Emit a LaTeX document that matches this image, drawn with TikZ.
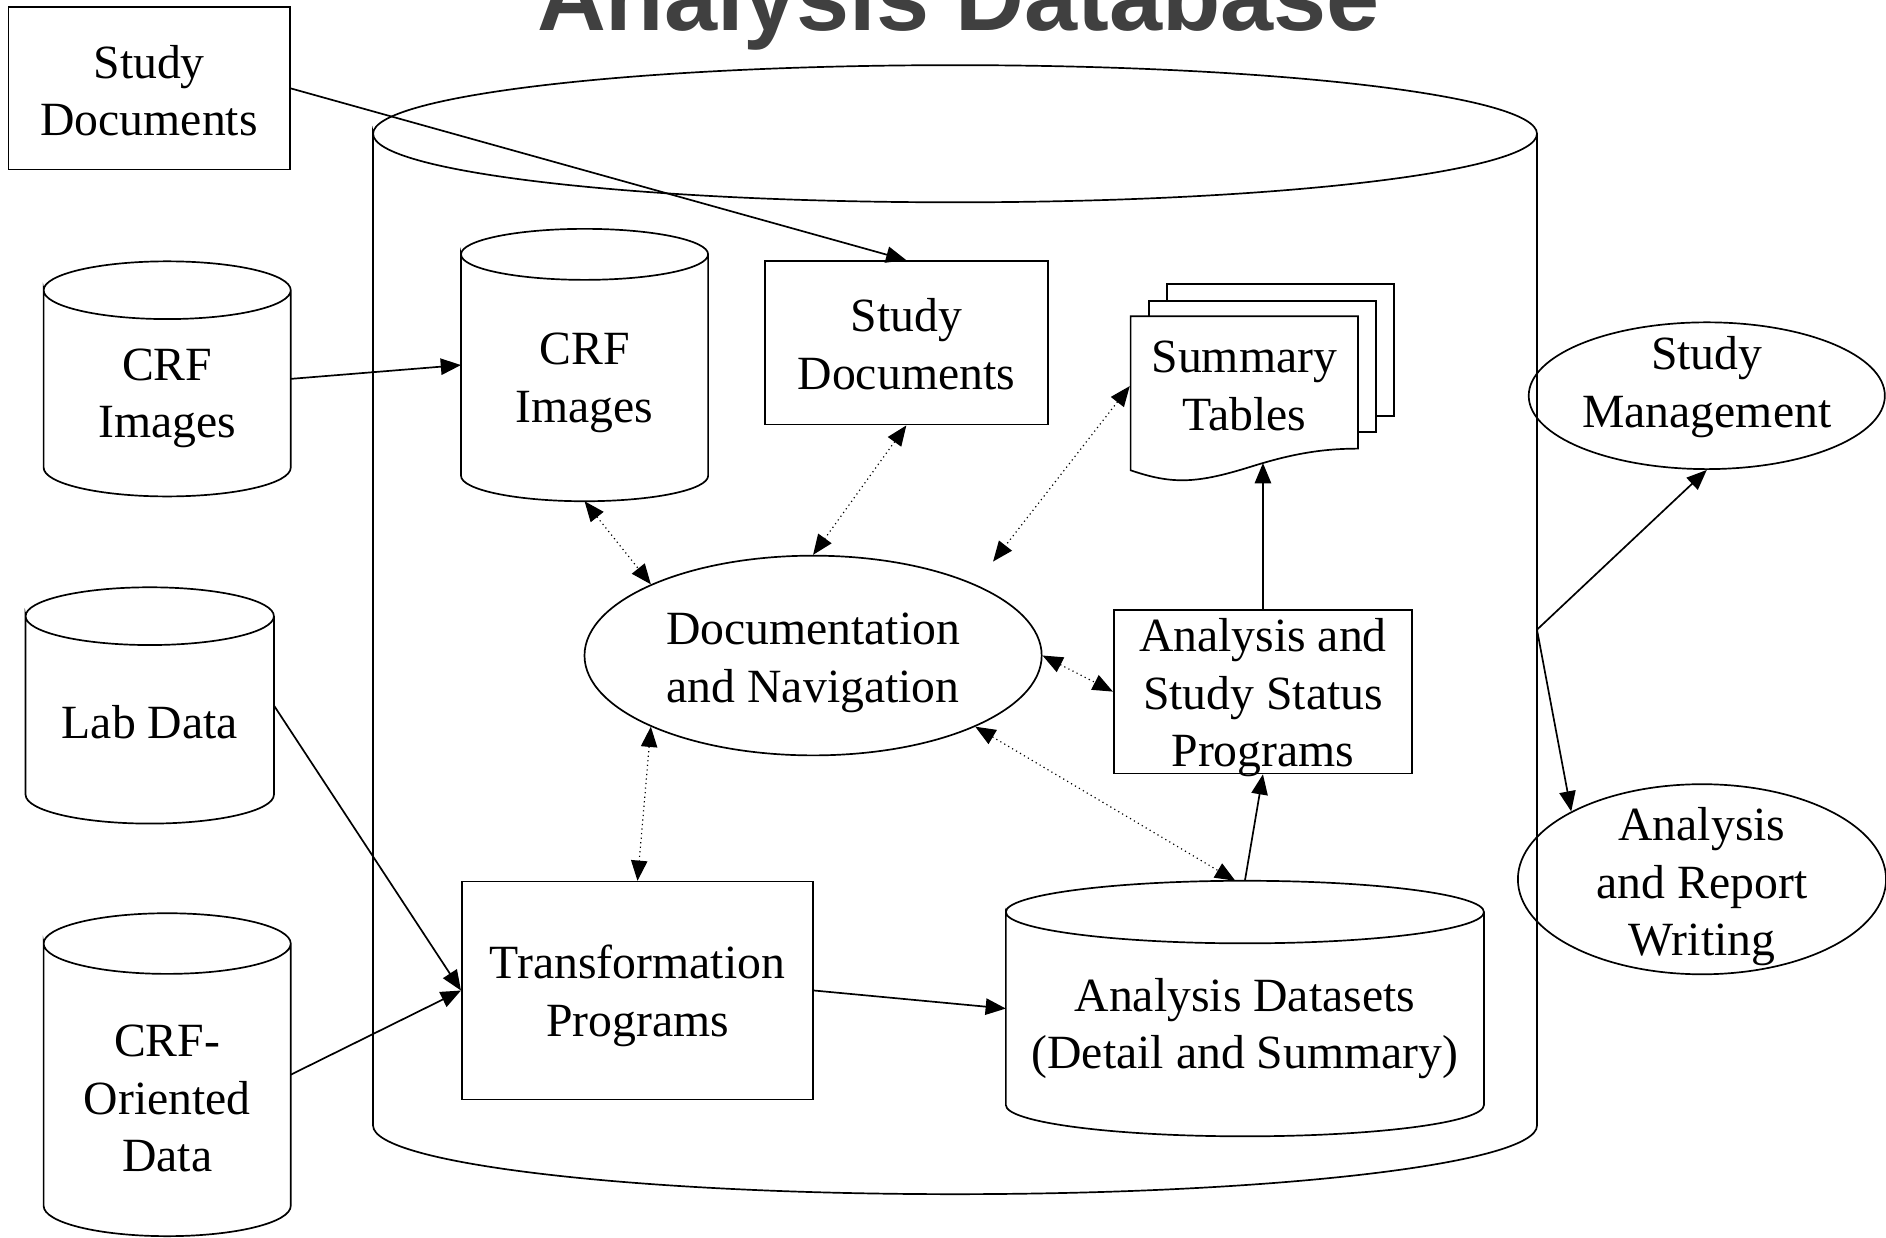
\documentclass[tikz,border=0pt]{standalone}
\usepackage{fontspec}
\setmainfont{Liberation Serif}
\newfontfamily\titlefont{Liberation Sans}
\usetikzlibrary{arrows.meta, shapes.geometric, calc, positioning}
\definecolor{titlegray}{HTML}{404040}
% outline of a cylinder round a rectangle node: name, cap radius
\newcommand\dbcyl[2]{%
  \draw let \p1=(#1.north west), \p2=(#1.south east), \n1={(\x2-\x1)/2} in
    ({\x1},{\y1-#2}) arc[start angle=180, end angle=-180, x radius=\n1, y radius=#2]
    -- ({\x1},{\y2+#2}) arc[start angle=180, end angle=360, x radius=\n1, y radius=#2]
    -- ({\x2},{\y1-#2});}
\tikzset{
  box/.style={draw, rectangle, inner sep=0pt, align=center},
  db/.style={rectangle, inner sep=0pt, align=center},
  oval/.style={draw, ellipse, inner sep=0pt, align=center},
  textdrop/.style={execute at begin node={\rule{0pt}{#1}}},
  textlift/.style={execute at end node={\rule[-#1]{0pt}{#1}}},
  flow/.style={->},
  link/.style={<->, dotted, line width=0.7pt},
}
\begin{document}
\begin{tikzpicture}[x=0.025cm, y=-0.025cm, >={Triangle[length=0.42cm,width=0.34cm]},
    line width=1pt, font=\fontsize{28.2}{34}\selectfont]
    \useasboundingbox (0,0) rectangle (1568,1029);
    \node[font=\titlefont\bfseries\fontsize{56.4}{60}\selectfont, text=titlegray, anchor=base] (title) at (797,25) {Analysis Database};
    \node[db, minimum width=24.15cm, minimum height=23.425cm] (odb) at (794,523.5) {};
    \dbcyl{odb}{1.425cm}
    % sources outside the database
    \node[box, textdrop=56pt, minimum width=5.85cm, minimum height=3.375cm] (sdoc) at (124,73.5) {Study\\Documents};
    \node[db, textdrop=75.8pt, minimum width=5.1cm, minimum height=4.85cm] (lcrf) at (139,315) {CRF\\Images};
    \dbcyl{lcrf}{0.6cm}
    \node[db, textdrop=39.2pt, minimum width=5.125cm, minimum height=4.875cm] (lab) at (124.5,586.5) {Lab Data};
    \dbcyl{lab}{0.6cm}
    \node[db, textdrop=114.8pt, minimum width=5.1cm, minimum height=6.675cm] (coda) at (139,893.5) {CRF-\\Oriented\\Data};
    \dbcyl{coda}{0.63cm}
    % inside the database
    \node[db, textdrop=73.6pt, minimum width=5.1cm, minimum height=5.625cm] (icrf) at (486,303.5) {CRF\\Images};
    \dbcyl{icrf}{0.53cm}
    \node[box, textdrop=55.4pt, minimum width=5.875cm, minimum height=3.4cm] (isdoc) at (753.5,285) {Study\\Documents};
    \draw[fill=white] (970,236) rectangle (1159,346);
    \draw[fill=white] (955,250) rectangle (1144,359);
    \draw[fill=white] (940,263) -- (1129,263) -- (1129,373)
        .. controls (1100,373) and (1075,377) .. (1040,388)
        .. controls (995,402) and (975,403) .. (940,391) -- cycle;
    \node[inner sep=0pt, minimum width=4.725cm, minimum height=3cm, align=center] (sumt) at (1034.5,321) {Summary\\Tables};
    \coordinate (sumtip) at (1050,385);
    \node[oval, textdrop=61.3pt, minimum width=9.5cm, minimum height=4.15cm] (dnav) at (676,545) {Documentation\\and Navigation};
    \node[box, textdrop=95.1pt, inner ysep=-0.2cm, minimum width=6.2cm, minimum height=3.4cm] (asp) at (1050,575) {Analysis and\\Study Status\\Programs};
    \node[box, textdrop=60.4pt, minimum width=7.3cm, minimum height=4.525cm] (trans) at (530,823.5) {Transformation\\Programs};
    \node[db, textdrop=77.5pt, minimum width=9.9cm, minimum height=5.275cm] (ads) at (1035,838.5) {Analysis Datasets\\(Detail and Summary)};
    \dbcyl{ads}{0.65cm}
    % users
    \node[oval, textlift=16pt, inner ysep=-0.3cm, minimum width=7.4cm, minimum height=3.05cm] (stmg) at (1419,329) {Study\\Management};
    \node[oval, textdrop=96.5pt, inner ysep=-0.5cm, minimum width=7.65cm, minimum height=3.95cm] (arw) at (1415,731) {Analysis\\and Report\\Writing};

    \draw[flow] (sdoc.east) -- (isdoc.north);
    \draw[flow] (lcrf.east) -- (icrf.west);
    \draw[flow] (lab.east) -- (trans.west);
    \draw[flow] (coda.east) -- (trans.west);
    \draw[flow] (trans.east) -- (ads.west);
    \draw[flow] (ads.north) -- (asp.south);
    \draw[flow] (asp.north) -- (sumtip);
    \draw[flow] (odb.east) -- (stmg.south);
    \draw[flow] (odb.east) -- (arw.north west);
    \draw[link] (icrf.south) -- (dnav.north west);
    \draw[link] (isdoc.south) -- (dnav.north);
    \draw[link, shorten >=0.6cm] (sumt.west) -- (dnav.north east);
    \draw[link] (dnav.east) -- (asp.west);
    \draw[link] (dnav.south east) -- ([xshift=-0.2cm]ads.north);
    \draw[link] (dnav.south west) -- (trans.north);
\end{tikzpicture}
\end{document}
